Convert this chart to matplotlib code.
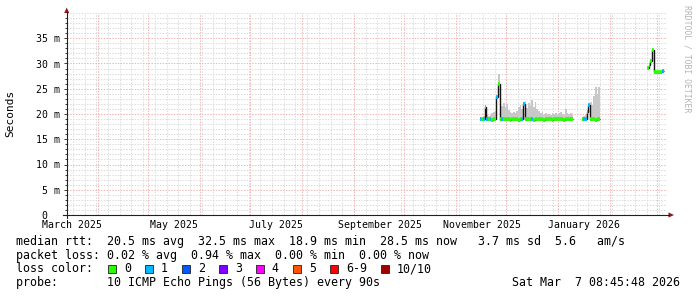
import numpy as np
import pandas as pd
import matplotlib
matplotlib.use("Agg")
import matplotlib.pyplot as plt
import matplotlib.dates as mdates
from matplotlib.patches import Rectangle, Polygon
from matplotlib.lines import Line2D
from matplotlib.transforms import blended_transform_factory

W, H = 697, 297
MONO = "DejaVu Sans Mono"

# daily slots, one block per stretch of data
a_start = "2025-11-15"
a_median = [19.0, 19.0, 19.0, 21.3, 19.0, 19.0, 19.0, 18.9, 19.0, 19.0, 23.3, 25.9,
            19.0, 19.0, 19.0, 19.0,
            19.0, 19.0, 18.9, 19.0, 19.0, 19.0, 19.0, 18.9, 19.0, 19.1, 22.0,
            19.0, 19.0, 19.0, 19.0, 19.0, 18.9, 19.0, 19.0, 19.0, 19.0, 19.0, 18.9,
            19.0, 19.0, 19.0, 19.0, 18.9, 19.0, 19.0, 19.0,
            19.0, 19.0, 19.0, 18.9, 19.0, 19.0, 19.0, 19.0, 19.0]
a_loss = [1, 0, 1, 0, 1, 0, 1, 0, 0, 0, 1, 0, 0, 1, 0, 0,
          0, 0, 0, 0, 0, 0, 0, 0, 0, 1, 1,
          0, 0, 0, 0, 1, 0, 0, 0, 0, 0, 0, 0, 0, 0, 0, 0, 0, 0, 0, 0,
          0, 0, 0, 0, 0, 0, 0, 0, 0]
a_smoke = [19.5, 19.4, 19.6, 21.5, 19.8, 19.6, 19.9, 20.2, 20.4, 20.6, 23.6, 27.9,
           22.0, 21.6, 22.2, 21.4,
           22.0, 20.8, 20.3, 20.1, 20.4, 20.2, 20.6, 21.4, 21.8, 21.0, 22.3, 22.6,
           21.2, 22.1, 21.6, 22.7, 21.3, 22.4, 21.0, 20.6, 20.1, 20.3, 19.9, 20.1,
           19.8, 20.0, 19.9, 20.2, 20.0, 20.1, 19.9,
           20.1, 20.4, 20.0, 19.8, 20.9, 20.2, 20.0, 20.1, 19.9]

b_start = "2026-01-15"
b_median = [19.0, 19.0, 19.0, 20.3, 21.8, 19.0, 19.0, 19.0, 18.9, 19.0, 19.0]
b_loss = [0, 1, 1, 1, 1, 0, 0, 0, 0, 0, 0]
b_smoke = [19.5, 19.6, 19.8, 20.6, 22.0, 22.4, 21.8, 23.5, 25.3, 24.0, 25.4]

c_start = "2026-02-23"
c_median = [29.2, 29.7, 30.4, 32.6, 28.4, 28.4, 28.3, 28.4, 28.4, 28.5]
c_loss = [0, 0, 0, 0, 0, 0, 0, 0, 0, 1]
c_smoke = [29.4, 29.9, 30.6, 32.8, 28.6, 28.6, 28.5, 28.6, 28.6, 28.7]

loss_colors = ["#26ff00", "#00b8ff", "#0059ff", "#7e00ff", "#ff00ff", "#ff5500", "#ff0000", "#a10000"]
loss_labels = ["0", "1", "2", "3", "4", "5", "6-9", "10/10"]

y_major = [0, 5, 10, 15, 20, 25, 30, 35]
y_labels = ["0  ", "5 m", "10 m", "15 m", "20 m", "25 m", "30 m", "35 m"]
month_labels = ["March 2025", "May 2025", "July 2025", "September 2025", "November 2025", "January 2026"]
month_label_dates = ["2025-03-01", "2025-05-01", "2025-07-01", "2025-09-01", "2025-11-01", "2026-01-01"]

legend_lines = [
    "median rtt:  20.5 ms avg  32.5 ms max  18.9 ms min  28.5 ms now   3.7 ms sd  5.6   am/s",
    "packet loss: 0.02 % avg  0.94 % max  0.00 % min  0.00 % now",
    "loss color:",
    "probe:       10 ICMP Echo Pings (56 Bytes) every 90s",
]
stamp = "Sat Mar  7 08:45:48 2026"


def fx(x):
    return x / W


def fy(y):
    return 1 - y / H


def main():
    fig = plt.figure(figsize=(W / 100, H / 100), dpi=100)
    ax = fig.add_axes([fx(67), fy(215), 600 / W, 202 / H])
    t0 = mdates.date2num(np.datetime64("2025-03-13T12:30"))
    t1 = mdates.date2num(np.datetime64("2026-03-06T23:20"))
    ax.set_xlim(t0, t1)
    ax.set_ylim(0, 40)
    for s in ax.spines.values():
        s.set_visible(False)

    # grid (rrdtool style dotted lines)
    dots = (0, (1.4, 1.4))
    minor_c, major_c = "#dcdcdc", "#f2b6b6"
    for v in range(1, 41):
        if v % 5 or v == 40:
            ax.axhline(v, color=minor_c, lw=0.72, ls=dots, zorder=0)
    for v in y_major[1:]:
        ax.axhline(v, color=major_c, lw=0.72, ls=dots, zorder=0.5)
    mondays = pd.date_range("2025-03-17", "2026-03-06", freq="7D")
    for d in mdates.date2num(mondays.values):
        ax.axvline(d, color=minor_c, lw=0.72, ls=dots, zorder=0)
    months = pd.date_range("2025-04-01", "2026-03-01", freq="MS")
    for d in mdates.date2num(months.values):
        ax.axvline(d, color=major_c, lw=0.72, ls=dots, zorder=0.5)

    # smoke, median line and loss bands
    for start, med, loss, smoke in [(a_start, a_median, a_loss, a_smoke),
                                    (b_start, b_median, b_loss, b_smoke),
                                    (c_start, c_median, c_loss, c_smoke)]:
        med = np.array(med)
        edges = mdates.date2num(pd.date_range(start, periods=len(med) + 1, freq="D").values)
        ax.stairs(smoke, edges, baseline=med - 0.4, fill=True, color="#c8c8c8", lw=0, zorder=1)
        ax.stairs(med, edges, baseline=None, color="#151515", lw=1.0, zorder=2)
        ax.hlines(med, edges[:-1], edges[1:], colors=[loss_colors[l] for l in loss],
                  lw=2.6, capstyle="butt", zorder=3)

    # ticks and labels
    ax.set_yticks(y_major, y_labels)
    ax.set_yticks(range(1, 40), minor=True)
    ax.tick_params(axis="y", which="major", length=2.5, width=0.72, color="#404040",
                   pad=2.6, labelsize=7.1, labelfontfamily=MONO)
    ax.tick_params(axis="y", which="minor", length=1.4, width=0.72, color="#404040")
    ax.set_xticks([])
    tr = blended_transform_factory(ax.transData, fig.transFigure)
    for lab, d in zip(month_labels, month_label_dates):
        x = mdates.date2num(np.datetime64(d)) + 15.5
        ax.text(x, fy(227.7), lab, transform=tr, ha="center", va="baseline",
                fontsize=7.1, family=MONO, clip_on=False)

    # axis lines with arrows
    fig.add_artist(Line2D([fx(63), fx(669)], [fy(215), fy(215)], color="#202020", lw=0.8))
    fig.add_artist(Line2D([fx(66.7), fx(66.7)], [fy(218), fy(12)], color="#202020", lw=0.8))
    fig.add_artist(Polygon([(fx(668.5), fy(212.4)), (fx(668.5), fy(217.6)), (fx(674), fy(215))],
                           closed=True, color="#8b1a1a", lw=0))
    fig.add_artist(Polygon([(fx(64.2), fy(13)), (fx(69.2), fy(13)), (fx(66.7), fy(7.5))],
                           closed=True, color="#8b1a1a", lw=0))

    fig.text(fx(10.5), fy(113.5), "Seconds", rotation=90, ha="center", va="center",
             fontsize=8.0, family=MONO)
    fig.text(fx(687), fy(5), "RRDTOOL / TOBI OETIKER", rotation=270, ha="center", va="top",
             fontsize=5.9, family=MONO, color="#b4b4b4")

    # legend block
    fs = 8.37
    for line, base in zip(legend_lines, [245.2, 258.6, 272.3, 285.8]):
        fig.text(fx(16), fy(base), line, ha="left", va="baseline", fontsize=fs, family=MONO)
    x = 108.0
    for col, lab in zip(loss_colors, loss_labels):
        fig.add_artist(Rectangle((fx(x), fy(273)), 8 / W, 8 / H, facecolor=col,
                                 edgecolor="#202020", lw=0.6))
        fig.text(fx(x + 16), fy(272.3), lab, ha="left", va="baseline", fontsize=fs, family=MONO)
        x += 16 + len(lab) * 6.96 + 14
    fig.text(fx(680), fy(285.8), stamp, ha="right", va="baseline", fontsize=fs, family=MONO)

    fig.savefig("out.png", dpi=100)
    plt.close(fig)


if __name__ == "__main__":
    main()
